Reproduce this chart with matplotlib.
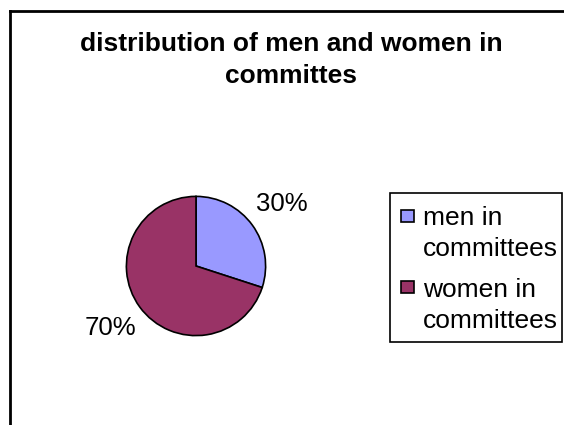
import matplotlib
matplotlib.use("Agg")
import matplotlib.pyplot as plt
from matplotlib.patches import Rectangle
from matplotlib.lines import Line2D

title = "distribution of men and women in\ncommittes"
categories = ["men in\ncommittees", "women in\ncommittees"]
values = [30, 70]
colors = ["#9999FF", "#993366"]

W, H = 564, 425
fig = plt.figure(figsize=(W / 100, H / 100), dpi=100)
plt.rcParams['font.family'] = ['Liberation Sans', 'DejaVu Sans']

def fx(x):
    return x / W

def fy(y):
    return 1 - y / H

# outer chart frame (left and top edges visible)
fig.add_artist(Line2D([fx(9.5), fx(9.5)], [fy(11), fy(430)], color="black", lw=2))
fig.add_artist(Line2D([fx(9.5), fx(570)], [fy(11), fy(11)], color="black", lw=2))

# va="baseline" aligns the last line's baseline
fig.text(fx(291), fy(83), title, ha="center", va="baseline", fontsize=19,
         fontweight="bold", linespacing=1.43, multialignment="center")

cx, cy, r = 196, 266, 71
ax = fig.add_axes([fx(cx - r), fy(cy + r), 2 * r / W, 2 * r / H])
wedges, texts, autotexts = ax.pie(values, colors=colors, startangle=90, counterclock=False,
       autopct='%1.0f%%', pctdistance=1.52,
       wedgeprops=dict(edgecolor="black", linewidth=1.2),
       textprops=dict(fontsize=18.5))
ax.set_xlim(-1.02, 1.02)
ax.set_ylim(-1.02, 1.02)
ax.axis("off")

# legend box drawn in figure pixel coordinates
fig.add_artist(Rectangle((fx(390), fy(342)), fx(562) - fx(390), fy(193) - fy(342),
                         transform=fig.transFigure, facecolor="white",
                         edgecolor="black", lw=1.2))
first_baselines = [226, 297]
last_baselines = [256, 328]
for lab, col, b1, b2 in zip(categories, colors, first_baselines, last_baselines):
    top = b1 - 16
    fig.add_artist(Rectangle((fx(401), fy(top + 12)), fx(414) - fx(401), fy(top) - fy(top + 12),
                             transform=fig.transFigure, facecolor=col,
                             edgecolor="black", lw=1.2))
    fig.text(fx(423), fy(b2), lab, ha="left", va="baseline", fontsize=19,
             linespacing=1.36)

fig.savefig("out.png", dpi=100)
